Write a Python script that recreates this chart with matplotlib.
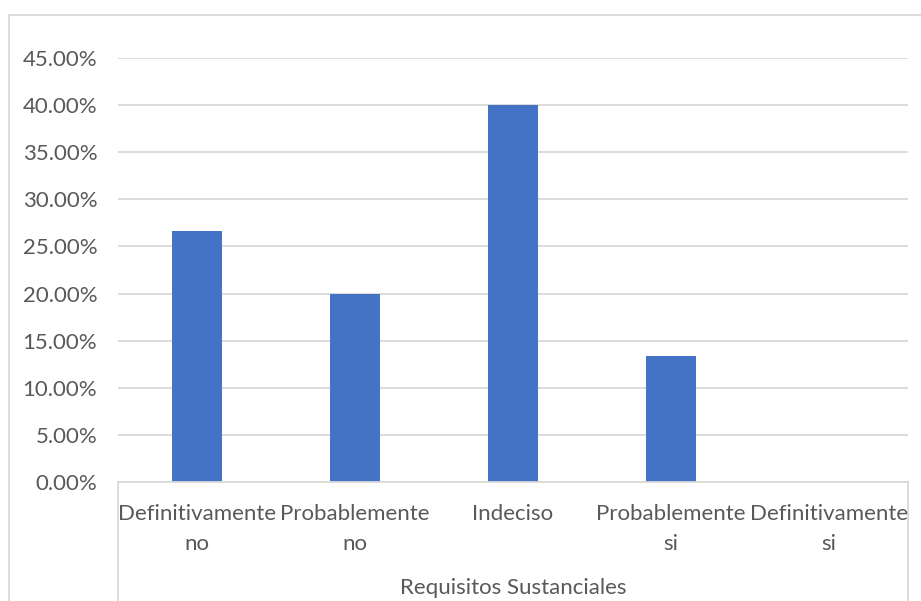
import matplotlib
matplotlib.use("Agg")
import matplotlib.pyplot as plt
from matplotlib.lines import Line2D
from matplotlib.ticker import PercentFormatter

categories = ["Definitivamente\nno", "Probablemente\nno", "Indeciso",
              "Probablemente\nsi", "Definitivamente\nsi"]
values = [0.2667, 0.20, 0.40, 0.1333, 0.0]
axis_title = "Requisitos Sustanciales"

W, H = 921, 601
TEXT = "#595959"
GRID = "#D9D9D9"
BAR = "#4472C4"
FONT = "Lato"
FS = 16

plt.rcParams["font.family"] = [FONT, "DejaVu Sans"]

fig = plt.figure(figsize=(W / 100, H / 100), dpi=100)


def fx(px):
    return px / W


def fy(py):
    return 1 - py / H


# plot area in pixel coordinates
x0, x1, ytop, ybot = 118, 908, 58, 482
ax = fig.add_axes([fx(x0), fy(ybot), fx(x1) - fx(x0), fy(ytop) - fy(ybot)])

xs = range(len(categories))
ax.bar(xs, values, width=0.316, color=BAR, zorder=3)
ax.set_xlim(-0.5, len(categories) - 0.5)
ax.set_ylim(0, 0.45)
ax.set_yticks([i * 0.05 for i in range(10)])
ax.yaxis.set_major_formatter(PercentFormatter(1.0, decimals=2))
ax.grid(axis="y", color=GRID, linewidth=1.3, zorder=0)
for s in ax.spines.values():
    s.set_visible(False)
ax.tick_params(axis="y", length=0, pad=15, labelsize=FS, labelcolor=TEXT)
ax.tick_params(axis="x", length=0, labelbottom=False)

# category labels under the axis
step = (x1 - x0) / len(categories)
for i, lab in enumerate(categories):
    fig.text(fx(x0 + step * (i + 0.5)), fy(504), lab, ha="center", va="top",
             fontsize=FS, color=TEXT, linespacing=1.6)

fig.text(fx((x0 + x1) / 2), fy(588), axis_title, ha="center", va="center",
         fontsize=FS, color=TEXT)

# category box lines
fig.add_artist(Line2D([fx(x0), fx(x1)], [fy(ybot), fy(ybot)], color=GRID, lw=1.3))
fig.add_artist(Line2D([fx(x0), fx(x0)], [fy(ybot), 0], color=GRID, lw=1.3))
fig.add_artist(Line2D([fx(x1), fx(x1)], [fy(ybot), 0], color=GRID, lw=1.3))

# chart area border
fig.add_artist(Line2D([fx(8.5), fx(8.5)], [0, fy(14.5)], color=GRID, lw=1.3))
fig.add_artist(Line2D([fx(8.5), 1], [fy(14.5), fy(14.5)], color=GRID, lw=1.3))

fig.savefig("out.png", dpi=100)
